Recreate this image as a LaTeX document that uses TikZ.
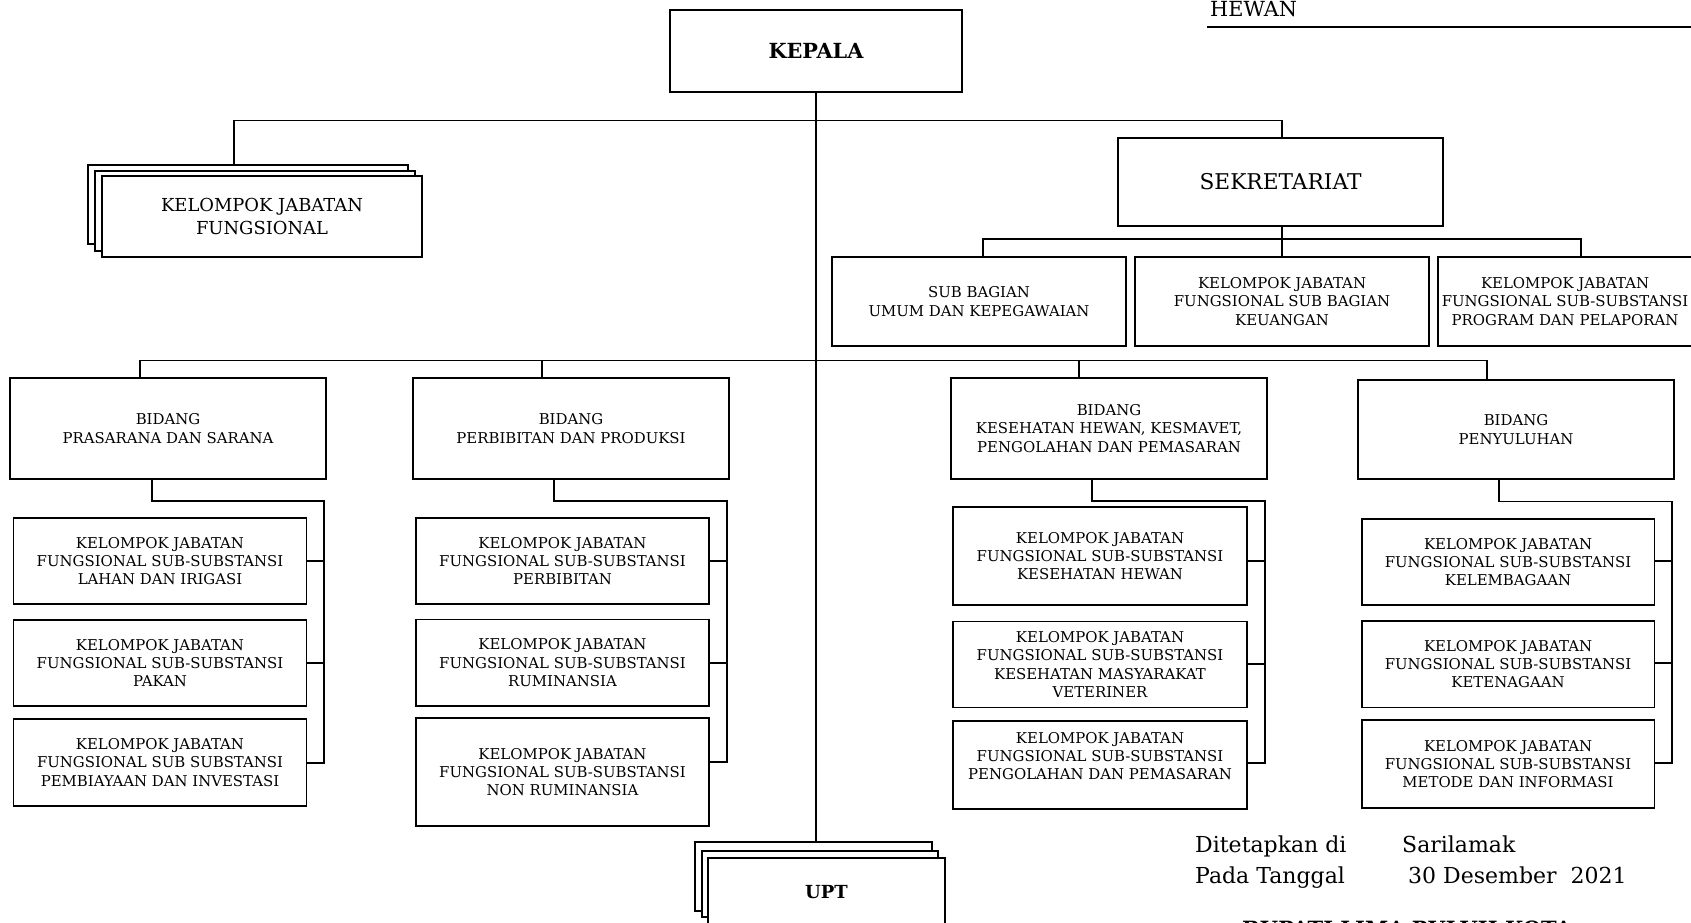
\documentclass[tikz,border=0pt]{standalone}
\usepackage{fontspec}
\setmainfont{DejaVu Serif}
\begin{document}
\begin{tikzpicture}[x=1pt,y=-1pt,
  box/.style={draw, line width=1.6pt, fill=white, inner sep=0pt, align=center, font=\fontsize{14.9}{18.3}\selectfont},
  conn/.style={line width=1.4pt},
  thinconn/.style={line width=1.2pt},
  plain/.style={inner sep=0pt, font=\fontsize{22}{26}\selectfont}]
\useasboundingbox (0,0) rectangle (1691,922);
\clip (0,0) rectangle (1691,922);

% top title remnant
\node[plain, anchor=base west, font=\fontsize{20.8}{24}\selectfont] (hew) at (1210,16.7) {HEWAN};
\coordinate (hl) at (1207,26.7);
\coordinate (hr) at (1691,26.7);
\draw[line width=1.6pt] (hl) -- (hr);

% KEPALA
\node[box, minimum width=292pt, minimum height=82pt, font=\fontsize{20.8}{24}\selectfont\bfseries] (kepala) at (816,51) {KEPALA};

% Kelompok Jabatan Fungsional (stacked)
\node[box, minimum width=320pt, minimum height=79pt] (kjfA) at (248,204.5) {};
\node[box, minimum width=320pt, minimum height=80pt] (kjfB) at (255,211) {};
\node[box, minimum width=320pt, minimum height=81pt, font=\fontsize{17.9}{22.5}\selectfont] (kjf) at (262,216.5) {KELOMPOK JABATAN\\FUNGSIONAL};

% Sekretariat
\node[box, minimum width=325pt, minimum height=88pt, font=\fontsize{21.7}{25}\selectfont] (sek) at (1280.5,182) {SEKRETARIAT};

% Sub boxes of Sekretariat
\node[box, minimum width=294pt, minimum height=89pt] (s1) at (979,301.5) {SUB BAGIAN\\UMUM DAN KEPEGAWAIAN};
\node[box, minimum width=294pt, minimum height=89pt] (s2) at (1282,301.5) {KELOMPOK JABATAN\\FUNGSIONAL SUB BAGIAN\\KEUANGAN};
\node[box, minimum width=254pt, minimum height=89pt] (s3) at (1565,301.5) {KELOMPOK JABATAN\\FUNGSIONAL SUB-SUBSTANSI\\PROGRAM DAN PELAPORAN};

% Bidang
\node[box, minimum width=316pt, minimum height=101pt] (b1) at (168,428.5) {BIDANG\\PRASARANA DAN SARANA};
\node[box, minimum width=316pt, minimum height=101pt] (b2) at (571,428.5) {BIDANG\\PERBIBITAN DAN PRODUKSI};
\node[box, minimum width=316pt, minimum height=101pt] (b3) at (1109,428.5) {BIDANG\\KESEHATAN HEWAN, KESMAVET,\\PENGOLAHAN DAN PEMASARAN};
\node[box, minimum width=316pt, minimum height=99pt] (b4) at (1516,429.5) {BIDANG\\PENYULUHAN};

% Column 1
\node[box, minimum width=293pt, minimum height=86pt] (k11) at (160,561) {KELOMPOK JABATAN\\FUNGSIONAL SUB-SUBSTANSI\\LAHAN DAN IRIGASI};
\node[box, minimum width=293pt, minimum height=86pt] (k12) at (160,663) {KELOMPOK JABATAN\\FUNGSIONAL SUB-SUBSTANSI\\PAKAN};
\node[box, minimum width=293pt, minimum height=87pt] (k13) at (160,762.5) {KELOMPOK JABATAN\\FUNGSIONAL SUB SUBSTANSI\\PEMBIAYAAN DAN INVESTASI};

% Column 2
\node[box, minimum width=293pt, minimum height=86pt] (k21) at (562.5,561) {KELOMPOK JABATAN\\FUNGSIONAL SUB-SUBSTANSI\\PERBIBITAN};
\node[box, minimum width=293pt, minimum height=86.5pt] (k22) at (562.5,662.75) {KELOMPOK JABATAN\\FUNGSIONAL SUB-SUBSTANSI\\RUMINANSIA};
\node[box, minimum width=293pt, minimum height=108pt] (k23) at (562.5,772) {KELOMPOK JABATAN\\FUNGSIONAL SUB-SUBSTANSI\\NON RUMINANSIA};

% Column 3
\node[box, minimum width=294pt, minimum height=97.5pt] (k31) at (1100,556) {KELOMPOK JABATAN\\FUNGSIONAL SUB-SUBSTANSI\\KESEHATAN HEWAN};
\node[box, minimum width=294pt, minimum height=86pt] (k32) at (1100,664.5) {KELOMPOK JABATAN\\FUNGSIONAL SUB-SUBSTANSI\\KESEHATAN MASYARAKAT\\VETERINER};
\node[box, minimum width=294pt, minimum height=88.5pt] (k33) at (1100,765) {KELOMPOK JABATAN\\FUNGSIONAL SUB-SUBSTANSI\\PENGOLAHAN DAN PEMASARAN\\ \mbox{}};

% Column 4
\node[box, minimum width=292.6pt, minimum height=86pt] (k41) at (1508,562) {KELOMPOK JABATAN\\FUNGSIONAL SUB-SUBSTANSI\\KELEMBAGAAN};
\node[box, minimum width=292.6pt, minimum height=86.6pt] (k42) at (1508,664) {KELOMPOK JABATAN\\FUNGSIONAL SUB-SUBSTANSI\\KETENAGAAN};
\node[box, minimum width=292.6pt, minimum height=88.3pt] (k43) at (1508,764) {KELOMPOK JABATAN\\FUNGSIONAL SUB-SUBSTANSI\\METODE DAN INFORMASI};

% UPT (stacked)
\node[box, minimum width=237pt, minimum height=69pt] (uptA) at (813.5,876.5) {};
\node[box, minimum width=236pt, minimum height=66pt] (uptB) at (820,884) {};
\node[box, minimum width=237pt, minimum height=69pt, font=\fontsize{18}{22}\selectfont\bfseries] (upt) at (826.5,892.5) {UPT};

% Signature text
\node[plain, anchor=base west] (dit) at (1195,852) {Ditetapkan di};
\node[plain, anchor=base west] (sar) at (1402,852) {Sarilamak};
\node[plain, anchor=base west] (pada) at (1195,883) {Pada Tanggal};
\node[plain, anchor=base west] (tgl) at (1408,883) {30 Desember\ \ 2021};
\node[plain, anchor=base, font=\fontsize{21}{24}\selectfont\bfseries] (bup) at (1407,936) {BUPATI LIMA PULUH KOTA};

% ---- connectors ----
\draw[thinconn] (kepala.south) -- (kepala.south |- uptA.north);
\coordinate (tl) at (234,120.7);
\coordinate (tr) at (1282,120.7);
\draw[thinconn] (tl |- kjfA.north) -- (tl) -- (tr) -- (tr |- sek.north);

\coordinate (sl) at (983,239);
\coordinate (sm) at (1282,239);
\coordinate (sr) at (1581,239);
\draw[thinconn] (sm |- sek.south) -- (sm) -- (sm |- s2.north);
\draw[thinconn] (sl |- s1.north) -- (sl) -- (sr) -- (sr |- s3.north);

\coordinate (bl) at (140,360.7);
\coordinate (bx2) at (542,360.7);
\coordinate (bx3) at (1079,360.7);
\coordinate (br) at (1487,360.7);
\draw[thinconn] (bl |- b1.north) -- (bl) -- (br) -- (br |- b4.north);
\draw[thinconn] (bx2) -- (bx2 |- b2.north);
\draw[thinconn] (bx3) -- (bx3 |- b3.north);

% column 1 bracket
\coordinate (c1t) at (152,501);
\coordinate (c1r) at (324,501);
\coordinate (c1a) at (324,561);
\coordinate (c1b) at (324,663);
\coordinate (c1c) at (324,763);
\draw[conn] (c1t |- b1.south) -- (c1t) -- (c1r) -- (c1c) -- (c1c -| k13.east);
\draw[conn] (c1a) -- (c1a -| k11.east);
\draw[conn] (c1b) -- (c1b -| k12.east);

% column 2 bracket
\coordinate (c2t) at (554,501);
\coordinate (c2r) at (727,501);
\coordinate (c2a) at (727,561);
\coordinate (c2b) at (727,663);
\coordinate (c2c) at (727,762);
\draw[conn] (c2t |- b2.south) -- (c2t) -- (c2r) -- (c2c) -- (c2c -| k23.east);
\draw[conn] (c2a) -- (c2a -| k21.east);
\draw[conn] (c2b) -- (c2b -| k22.east);

% column 3 bracket
\coordinate (c3t) at (1092,501);
\coordinate (c3r) at (1265,501);
\coordinate (c3a) at (1265,561);
\coordinate (c3b) at (1265,664);
\coordinate (c3c) at (1265,763);
\draw[conn] (c3t |- b3.south) -- (c3t) -- (c3r) -- (c3c) -- (c3c -| k33.east);
\draw[conn] (c3a) -- (c3a -| k31.east);
\draw[conn] (c3b) -- (c3b -| k32.east);

% column 4 bracket
\coordinate (c4t) at (1499,501.5);
\coordinate (c4r) at (1672,501.5);
\coordinate (c4a) at (1672,561);
\coordinate (c4b) at (1672,663);
\coordinate (c4c) at (1672,763);
\draw[conn] (c4t |- b4.south) -- (c4t) -- (c4r) -- (c4c) -- (c4c -| k43.east);
\draw[conn] (c4a) -- (c4a -| k41.east);
\draw[conn] (c4b) -- (c4b -| k42.east);
\end{tikzpicture}
\end{document}
